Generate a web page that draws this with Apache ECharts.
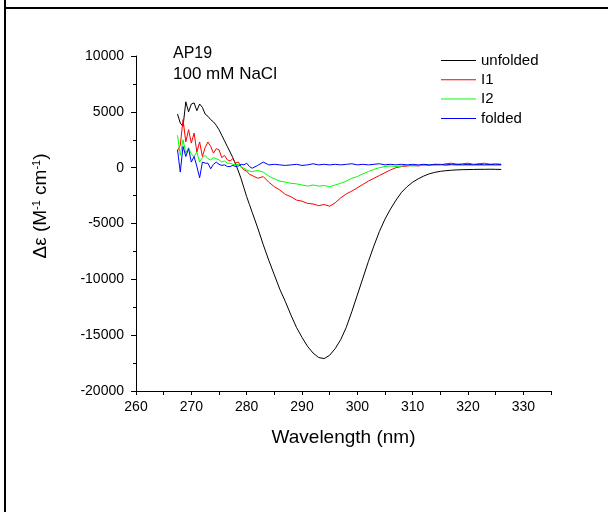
<!DOCTYPE html>
<html>
<head>
<meta charset="utf-8">
<script src="https://cdn.jsdelivr.net/npm/echarts@6/dist/echarts.min.js"></script>
<style>
  html, body { margin: 0; padding: 0; background: #fff; }
  #cdChart { width: 608px; height: 512px; }
</style>
</head>
<body>
<div id="cdChart"></div>
<script>
// wavelength (nm)
var wavelength = [267.5, 268, 268.5, 269, 269.5, 270, 270.5, 271, 271.5, 272, 272.5, 273, 273.5, 274, 274.5, 275, 275.5, 276, 276.5, 277, 277.5, 278, 278.5, 279, 279.5, 280, 280.5, 281,
    282, 283, 284, 285, 286, 287, 288, 289, 290, 291, 292, 293, 294, 295, 296, 297, 298, 299, 300, 301, 302, 303, 304, 305, 306, 307, 308, 309, 310,
    311, 312, 313, 314, 315, 316, 317, 318, 319, 320, 321, 322, 323, 324, 325, 326];

// delta epsilon for each state
var unfolded = [4800, 4000, 3700, 5900, 5000, 5700, 5800, 5100, 5700, 5400, 4800, 4600, 4300, 4100, 3800, 3400, 2900, 2400, 1900, 1400, 900, 300, -300, -1000, -1800, -2600, -3300, -4000,
    -5400, -6900, -8300, -9600, -10900, -12000, -13200, -14300, -15200, -16000, -16600, -17000, -17100, -16800, -16200, -15400, -14300, -12900, -11400, -9900, -8400, -7000, -5700, -4600, -3700, -2900, -2200, -1700, -1300,
    -1000, -750, -550, -420, -330, -270, -230, -200, -180, -170, -160, -150, -150, -140, -150, -160];
var i1 = [1500, 2000, 4300, 2300, 3400, 2200, 3100, 1400, 2300, 1000, 1800, 2300, 1900, 1300, 1700, 1600, 900, 1100, 700, 600, 800, 400, 500, 100, -200, -300, -600, -700,
    -950, -800, -1300, -1700, -2000, -2400, -2600, -2900, -3000, -3200, -3250, -3400, -3300, -3450, -3150, -2700, -2350, -2100, -1800, -1500, -1200, -950, -700, -450, -200, 0, 100, 150, 200,
    150, 250, 200, 300, 250, 350, 400, 300, 350, 400, 300, 350, 400, 300, 350, 300];
var i2 = [2900, 1100, 2500, 1300, 1800, 1200, 1000, 1400, 500, 900, 1100, 800, 700, 900, 800, 700, 500, 600, 400, 400, 300, 250, 300, 50, -50, -200, -300, -350,
    -250, -400, -750, -1000, -1200, -1300, -1400, -1450, -1550, -1650, -1550, -1650, -1600, -1700, -1550, -1400, -1200, -950, -800, -550, -350, -150, 0, 100, 150, 100, 150, 200, 150,
    200, 200, 250, 200, 250, 200, 250, 200, 250, 200, 250, 200, 250, 200, 250, 200];
var folded = [1600, -400, 1900, 1000, 1700, 500, 1000, 100, -900, 500, 400, 400, -100, 300, 500, 300, 200, 250, 100, 100, 200, 100, 150, 300, 250, 400, 100, -50,
    200, 500, 250, 300, 250, 200, 250, 300, 200, 250, 350, 250, 300, 250, 300, 250, 300, 350, 250, 300, 250, 300, 350, 250, 300, 250, 300, 250, 300,
    250, 300, 250, 300, 300, 250, 300, 300, 250, 300, 250, 300, 250, 300, 250, 300];

var seriesNames = ['unfolded', 'I1', 'I2', 'folded'];
var seriesColors = ['#000000', '#ff0000', '#00ff00', '#0000ff'];
var seriesValues = [unfolded, i1, i2, folded];

var fontName = 'Liberation Sans, Arial, sans-serif';

function pairs(values) {
    return wavelength.map(function (w, i) { return [w, values[i]]; });
}

var cdChart = echarts.init(document.getElementById('cdChart'));

var option = {
    animation: false,
    backgroundColor: '#ffffff',
    textStyle: { fontFamily: fontName, color: '#000' },
    grid: {
        left: 136,
        top: 56,
        right: 57,
        bottom: 121
    },
    legend: {
        orient: 'vertical',
        left: 441,
        top: 53,
        padding: 0,
        icon: 'rect',
        itemWidth: 35,
        itemHeight: 1,
        itemGap: 4.3,
        data: seriesNames,
        textStyle: { fontSize: 15, lineHeight: 15, color: '#000', fontFamily: fontName }
    },
    xAxis: {
        type: 'value',
        min: 260,
        max: 335,
        interval: 5,
        name: 'Wavelength (nm)',
        nameLocation: 'middle',
        nameGap: 37,
        nameTextStyle: { fontSize: 19, color: '#000', fontFamily: fontName },
        splitLine: { show: false },
        axisLine: { onZero: false, lineStyle: { color: '#000', width: 1 } },
        axisTick: { inside: false, length: 4, lineStyle: { color: '#000' } },
        axisLabel: {
            margin: 9,
            fontSize: 14,
            color: '#000',
            fontFamily: fontName,
            formatter: function (v) { return v % 10 === 0 ? String(v) : ''; }
        }
    },
    yAxis: {
        type: 'value',
        min: -20000,
        max: 10000,
        interval: 5000,
        splitLine: { show: false },
        axisLine: { show: true, lineStyle: { color: '#000', width: 1 } },
        axisTick: { show: true, inside: false, length: 5, lineStyle: { color: '#000' } },
        minorTick: { show: true, splitNumber: 2, length: 3, lineStyle: { color: '#000' } },
        axisLabel: {
            margin: 12,
            fontSize: 14,
            color: '#000',
            fontFamily: fontName,
            formatter: function (v) { return String(v); }
        }
    },
    graphic: [
        // frame lines of the figure panel
        { type: 'line', shape: { x1: 5, y1: 0, x2: 5, y2: 512 }, style: { stroke: '#000', lineWidth: 2 } },
        { type: 'line', shape: { x1: 5, y1: 8, x2: 608, y2: 8 }, style: { stroke: '#000', lineWidth: 2 } },
        // sample labels
        { type: 'text', left: 173, top: 46, style: { text: 'AP19', fontSize: 16, fill: '#000', fontFamily: fontName } },
        { type: 'text', left: 173, top: 66, style: { text: '100 mM NaCl', fontSize: 17, fill: '#000', fontFamily: fontName } },
        // y axis title
        {
            type: 'text',
            x: 41,
            y: 206,
            rotation: Math.PI / 2,
            style: {
                text: 'Δε (M{sup|-1} cm{sup|-1})',
                fontSize: 19,
                fill: '#000',
                fontFamily: fontName,
                align: 'center',
                verticalAlign: 'middle',
                rich: {
                    sup: { fontSize: 11, verticalAlign: 'top', lineHeight: 11, fontFamily: fontName, fill: '#000' }
                }
            }
        }
    ],
    series: seriesNames.map(function (name, k) {
        return {
            name: name,
            type: 'line',
            symbol: 'none',
            data: pairs(seriesValues[k]),
            lineStyle: { color: seriesColors[k], width: 1 },
            itemStyle: { color: seriesColors[k] }
        };
    })
};

cdChart.setOption(option);
</script>
</body>
</html>
